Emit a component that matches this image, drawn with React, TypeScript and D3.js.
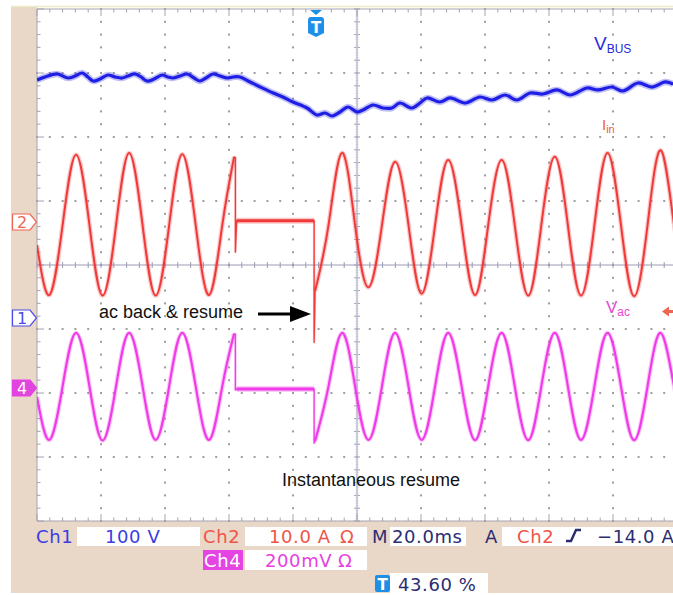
import React, { useEffect, useRef } from "react";
import * as d3 from "d3";

// screen: 10 div x 20 ms, 8 vertical div
const timeSpan = [0, 200];
const divsX = 10;
const divsY = 8;

// Ch1 VBUS (V) vs time (ms)
const vbus: [number, number][] = [
  [0, 372], [2.5, 376.6], [6.3, 381.3], [9.7, 375], [11.9, 378], [14.1, 382.8], [15.9, 376.6],
  [17.5, 370.3], [19.7, 373.4], [22.2, 379.7], [24.4, 376.6], [26.6, 375], [28.4, 378.1],
  [30.6, 381.3], [32.5, 376.6], [34.4, 370.3], [36.6, 373.4], [39.1, 379.7], [40.9, 376.6],
  [42.5, 375], [44.7, 378.1], [46.9, 381.3], [49.1, 375], [50.9, 370.3], [52.8, 375],
  [55.0, 381.3], [57.2, 378.1], [59.4, 375], [61.3, 376.6], [63.4, 376.6], [66.6, 368.8],
  [70.2, 360], [73.8, 351.6], [77, 345], [80.0, 337.5], [84.4, 328.1], [87.5, 317.2], [90.0, 320.3],
  [92.2, 315.6], [94.7, 321.9], [97.2, 329.7], [100, 321.9], [101.9, 325], [105, 332.8],
  [108.1, 328.1], [110.9, 328.1], [113.4, 335.9], [117.2, 328.1], [119.7, 335.9], [121.9, 343.8],
  [125.9, 337.5], [129.1, 343.8], [133.8, 335.9], [138.4, 345.3], [142.2, 340.6], [146.3, 348.4],
  [150, 340.6], [154.1, 351.6], [158.1, 350], [162.5, 356.3], [166.6, 348.4], [171.9, 359.4],
  [175.3, 356.3], [179.7, 360.9], [183.1, 354.7], [187.8, 367.2], [192.2, 360.9], [196.3, 368.8],
  [198.8, 365.6],
];

// Ch2 Iin (A): before dropout, dropout edges, flat dropout, after resume
const iinBefore: [number, number][] = [
  [0, -3.6], [3.9, -11.4], [8.0, -0.5], [12.2, 10.5], [16.4, -0.5], [20.5, -11.5], [24.7, -0.5],
  [28.8, 10.8], [33.0, -0.5], [37.1, -11.5], [41.3, -0.5], [45.4, 10.6], [49.6, -0.5],
  [53.8, -11.4], [57.9, -0.5], [61.6, 10.2],
];
const iinEdges: [number, number][] = [
  [61.6, 10.2], [62.0, 10.0], [62.0, -4.7], [62.4, 0.2], [86.6, 0.2], [86.6, -18.8], [86.9, -10.8],
];
const iinFlat: [number, number][] = [[62.4, 0.2], [86.6, 0.2]];
const iinAfter: [number, number][] = [
  [86.9, -10.8], [91.1, -0.5], [95.3, 10.8], [99.4, -0.5], [103.6, -10.2], [107.8, -0.5],
  [111.9, 9.4], [116.1, -0.5], [120.2, -11.2], [124.4, -0.5], [128.5, 9.7], [132.7, -0.5],
  [136.9, -11.4], [141.0, -0.5], [145.2, 9.7], [149.3, -0.5], [153.5, -11.5], [157.6, -0.5],
  [161.8, 10.2], [165.9, -0.5], [170.0, -11.5], [174.2, -0.5], [178.3, 10.8], [182.5, -0.5],
  [186.6, -11.6], [190.8, -0.5], [194.9, 11.2], [199.1, -0.5], [203.2, -11.4],
];

// Ch4 Vac (mV)
const vacBefore: [number, number][] = [
  [0, -28], [3.9, -162], [8.0, 5], [12.2, 172], [16.4, 5], [20.5, -164], [24.7, 5],
  [28.8, 172], [33.0, 5], [37.1, -162], [41.3, 5], [45.4, 172], [49.6, 5], [53.8, -162],
  [57.9, 5], [61.6, 170],
];
const vacEdges: [number, number][] = [
  [61.6, 170], [62.0, 168], [62.0, -6], [62.4, -3], [86.6, -3], [86.6, -172], [86.9, -166],
];
const vacFlat: [number, number][] = [[62.4, -3], [86.6, -3]];
const vacAfter: [number, number][] = [
  [86.9, -166], [91.1, 5], [95.3, 172], [99.4, 5], [103.6, -162], [107.8, 5], [111.9, 172],
  [116.1, 5], [120.2, -162], [124.4, 5], [128.5, 172], [132.7, 5], [136.9, -163], [141.0, 5],
  [145.2, 172], [149.3, 5], [153.5, -163], [157.6, 5], [161.8, 172], [165.9, 5], [170.0, -162],
  [174.2, 5], [178.3, 172], [182.5, 5], [186.6, -163], [190.8, 5], [194.9, 172], [199.1, 5],
  [203.2, -162],
];

const triggerLevel = -14.0; // A, Ch2
const triggerPos = 43.6; // %

const FONT = "'DejaVu Sans', Verdana, sans-serif";
const ARIAL = "'Liberation Sans', Arial, sans-serif";

export default function App() {
  const ref = useRef<SVGSVGElement>(null);

  useEffect(() => {
    if (!ref.current) return;
    const svg = d3.select(ref.current);
    svg.selectAll("*").remove();

    const div = 64;
    const left = 37, top = 9;
    const right = left + divsX * div;
    const bottom = top + divsY * div;

    const x = d3.scaleLinear().domain(timeSpan).range([left, right]);
    const gx = d3.scaleLinear().domain([0, divsX]).range([left, right]);
    const gy = d3.scaleLinear().domain([0, divsY]).range([top, bottom]);
    // channel scales (per div: 100 V, 10 A, 200 mV)
    const y1 = d3.scaleLinear().domain([-100, 100]).range([318 + div, 318 - div]);
    const y2 = d3.scaleLinear().domain([-10, 10]).range([222 + div, 222 - div]);
    const y4 = d3.scaleLinear().domain([-200, 200]).range([388 + div, 388 - div]);

    // panel background
    svg.append("rect").attr("width", 673).attr("height", 595).attr("fill", "#fff");
    svg.append("rect").attr("x", 11).attr("y", 6).attr("width", 662).attr("height", 587).attr("fill", "#E9D7C8");
    svg.append("rect").attr("x", left).attr("y", 6).attr("width", 640).attr("height", bottom - 6).attr("fill", "#fff");
    svg.append("line").attr("x1", 11).attr("x2", 673).attr("y1", 6.5).attr("y2", 6.5)
      .attr("stroke", "#ECECC4").attr("stroke-width", 1.5);

    const grid = svg.append("g");
    const dotColor = "#9E9E9E";
    // dotted division lines
    d3.range(1, divsX).filter((i) => i !== 5).forEach((i) => {
      grid.selectAll(null).data(d3.range(0, divsY * 5 + 1)).enter().append("rect")
        .attr("x", gx(i) - 1).attr("y", (j) => gy(j / 5) - 1)
        .attr("width", 2).attr("height", 2).attr("fill", dotColor);
    });
    d3.range(1, divsY).filter((k) => k !== 4).forEach((k) => {
      grid.selectAll(null).data(d3.range(0, divsX * 5 + 1)).enter().append("rect")
        .attr("x", (m) => gx(m / 5) - 1).attr("y", gy(k) - 1)
        .attr("width", 2).attr("height", 2).attr("fill", dotColor);
    });

    const axisColor = "#9C9CB6";
    // center cross with ticks
    grid.append("line").attr("x1", left).attr("x2", right).attr("y1", gy(4)).attr("y2", gy(4))
      .attr("stroke", axisColor).attr("stroke-width", 1);
    grid.append("line").attr("x1", gx(5)).attr("x2", gx(5)).attr("y1", top).attr("y2", bottom)
      .attr("stroke", axisColor).attr("stroke-width", 1);
    grid.selectAll(null).data(d3.range(0, divsX * 5 + 1)).enter().append("line")
      .attr("x1", (m) => gx(m / 5)).attr("x2", (m) => gx(m / 5))
      .attr("y1", gy(4) - 3).attr("y2", gy(4) + 3).attr("stroke", axisColor);
    grid.selectAll(null).data(d3.range(0, divsY * 5 + 1)).enter().append("line")
      .attr("y1", (j) => gy(j / 5)).attr("y2", (j) => gy(j / 5))
      .attr("x1", gx(5) - 3).attr("x2", gx(5) + 3).attr("stroke", axisColor);
    grid.selectAll(null).data(d3.range(0, divsY * 25 + 1)).enter().append("line")
      .attr("y1", (j) => gy(j / 25)).attr("y2", (j) => gy(j / 25))
      .attr("x1", gx(5) - 1.5).attr("x2", gx(5) + 1.5).attr("stroke", "#C4C4D4").attr("stroke-width", 0.7);

    // border rulers
    const rulerColor = "#A4A4B0";
    grid.append("line").attr("x1", left).attr("x2", right).attr("y1", top).attr("y2", top).attr("stroke", rulerColor);
    grid.append("line").attr("x1", left).attr("x2", right).attr("y1", bottom).attr("y2", bottom).attr("stroke", rulerColor);
    grid.append("line").attr("x1", left).attr("x2", left).attr("y1", top).attr("y2", bottom).attr("stroke", rulerColor);
    grid.selectAll(null).data(d3.range(0, divsX * 5 + 1)).enter().append("line")
      .attr("x1", (m) => gx(m / 5)).attr("x2", (m) => gx(m / 5))
      .attr("y1", top).attr("y2", (m) => top + (m % 5 === 0 ? 7 : 3.5)).attr("stroke", rulerColor);
    grid.selectAll(null).data(d3.range(0, divsX * 5 + 1)).enter().append("line")
      .attr("x1", (m) => gx(m / 5)).attr("x2", (m) => gx(m / 5))
      .attr("y1", bottom).attr("y2", (m) => bottom - (m % 5 === 0 ? 7 : 3.5)).attr("stroke", rulerColor);
    grid.selectAll(null).data(d3.range(0, divsY * 5 + 1)).enter().append("line")
      .attr("y1", (j) => gy(j / 5)).attr("y2", (j) => gy(j / 5))
      .attr("x1", left).attr("x2", (j) => left + (j % 5 === 0 ? 7 : 3.5)).attr("stroke", rulerColor);

    // traces
    svg.append("clipPath").attr("id", "scr").append("rect")
      .attr("x", left).attr("y", top).attr("width", 640).attr("height", bottom - top);
    const traces = svg.append("g").attr("clip-path", "url(#scr)");

    const drawTrace = (
      data: [number, number][],
      ys: d3.ScaleLinear<number, number>,
      curve: d3.CurveFactory,
      color: string,
      core: number,
      fuzz: number
    ) => {
      const line = d3.line<[number, number]>().x((d) => x(d[0])).y((d) => ys(d[1])).curve(curve);
      traces.append("path").attr("d", line(data)).attr("fill", "none").attr("stroke", color)
        .attr("stroke-width", fuzz).attr("stroke-opacity", 0.28).attr("stroke-linejoin", "round");
      traces.append("path").attr("d", line(data)).attr("fill", "none").attr("stroke", color)
        .attr("stroke-width", core).attr("stroke-linejoin", "round");
    };

    drawTrace(vbus, y1, d3.curveCatmullRom.alpha(0.5), "#1E1EE4", 3.2, 6.5);

    const red = "#F03A3A";
    drawTrace(iinBefore, y2, d3.curveNatural, red, 2, 4.5);
    drawTrace(iinEdges, y2, d3.curveLinear, red, 1.3, 2.5);
    drawTrace(iinFlat, y2, d3.curveLinear, red, 3, 6);
    drawTrace(iinAfter, y2, d3.curveNatural, red, 2, 4.5);

    const mag = "#F03CE8";
    drawTrace(vacBefore, y4, d3.curveNatural, mag, 2.2, 4.5);
    drawTrace(vacEdges, y4, d3.curveLinear, mag, 1.3, 2.5);
    drawTrace(vacFlat, y4, d3.curveLinear, mag, 3, 6);
    drawTrace(vacAfter, y4, d3.curveNatural, mag, 2.2, 4.5);

    // trigger position marker
    const tx = x((triggerPos / 100) * timeSpan[1]);
    const tg = svg.append("g").attr("transform", `translate(${tx},${top})`);
    tg.append("path").attr("d", "M-6,1 L6,1 L0,6 Z").attr("fill", "#1E8FE6");
    tg.append("path").attr("d", "M-8,11 Q-8,8 -5,8 L5,8 Q8,8 8,11 L8,24 L0,28 L-8,24 Z").attr("fill", "#1E8FE6");
    tg.append("text").attr("x", 0).attr("y", 24).attr("text-anchor", "middle")
      .attr("font-family", FONT).attr("font-weight", "bold").attr("font-size", 15).attr("fill", "#fff").text("T");

    // trigger level arrow (right edge)
    const ty = y2(triggerLevel);
    svg.append("path").attr("d", `M662,${ty} L669,${ty - 5} L669,${ty - 1.5} L673,${ty - 1.5} L673,${ty + 1.5} L669,${ty + 1.5} L669,${ty + 5} Z`)
      .attr("fill", "#F06452");

    // channel ground markers
    const marker = (gyPos: number, label: string, stroke: string, fill: string, textFill: string) => {
      const g = svg.append("g").attr("transform", `translate(0,${gyPos})`);
      g.append("path").attr("d", "M12.5,-8 L30,-8 L36.5,0 L30,8 L12.5,8 Z")
        .attr("fill", fill).attr("stroke", stroke).attr("stroke-width", 1.2);
      g.append("text").attr("x", 22).attr("y", 6).attr("text-anchor", "middle")
        .attr("font-family", FONT).attr("font-size", 16).attr("fill", textFill).text(label);
    };
    marker(y2(0), "2", "#F06452", "#fff", "#F06452");
    marker(y1(0), "1", "#4A4AE6", "#fff", "#4A4AE6");
    marker(y4(0), "4", "#E244E0", "#E244E0", "#fff");

    // trace labels
    const sub = (xp: number, yp: number, main: string, s: string, color: string, size: number, subSize: number) => {
      const t = svg.append("text").attr("x", xp).attr("y", yp).attr("font-family", ARIAL)
        .attr("font-size", size).attr("fill", color);
      t.append("tspan").text(main);
      t.append("tspan").attr("font-size", subSize).attr("dy", 3).text(s);
    };
    sub(594, 50, "V", "BUS", "#2A2AE0", 19, 12);
    sub(602, 130, "I", "in", "#F0602E", 15, 11);
    sub(606, 313, "V", "ac", "#E848D8", 17, 12);

    // annotations
    svg.append("text").attr("x", 99).attr("y", 318).attr("font-family", ARIAL).attr("font-size", 18)
      .attr("fill", "#111").text("ac back & resume");
    svg.append("line").attr("x1", 258).attr("x2", 292).attr("y1", 314).attr("y2", 314)
      .attr("stroke", "#000").attr("stroke-width", 3);
    svg.append("path").attr("d", "M290,306 L311,314 L290,322 Z").attr("fill", "#000");
    svg.append("text").attr("x", 282).attr("y", 486).attr("font-family", ARIAL).attr("font-size", 18)
      .attr("fill", "#111").text("Instantaneous resume");

    // status bar
    const box = (bx: number, by: number, bw: number, bh: number) =>
      svg.append("rect").attr("x", bx).attr("y", by).attr("width", bw).attr("height", bh).attr("fill", "#fff");
    const txt = (tx0: number, ty0: number, s: string, color: string) =>
      svg.append("text").attr("x", tx0).attr("y", ty0).attr("font-family", FONT).attr("font-size", 18)
        .attr("letter-spacing", 0.6).attr("fill", color).text(s);

    const blue = "#3C3CE2", coral = "#F05448", navy = "#2C2C72", pink = "#E840E0";
    box(77, 527, 123, 19);
    box(245, 527, 122, 19);
    box(390, 527, 76, 19);
    box(502, 527, 171, 19);
    box(245, 550, 122, 20);
    box(390, 573, 98, 20);
    svg.append("rect").attr("x", 203).attr("y", 550).attr("width", 40).attr("height", 20).attr("fill", "#E444E2");

    txt(36, 543, "Ch1", blue);
    txt(105, 543, "100 V", blue);
    txt(203, 543, "Ch2", coral);
    txt(269, 543, "10.0 A", coral);
    txt(340, 543, "Ω", coral);
    txt(372, 543, "M", navy);
    txt(392, 543, "20.0ms", navy);
    txt(485, 543, "A", navy);
    txt(517, 543, "Ch2", coral);
    svg.append("path").attr("d", "M566,541 L571,541 L576,530 L581,530").attr("fill", "none")
      .attr("stroke", navy).attr("stroke-width", 2.4);
    txt(597, 543, "\u221214.0 A", navy);
    txt(204, 567, "Ch4", "#fff");
    txt(265, 567, "200mV", pink);
    txt(338, 567, "Ω", pink);
    svg.append("rect").attr("x", 375).attr("y", 575).attr("width", 15).attr("height", 17).attr("rx", 2).attr("fill", "#1E8FE6");
    svg.append("text").attr("x", 382.5).attr("y", 590).attr("text-anchor", "middle").attr("font-family", FONT)
      .attr("font-weight", "bold").attr("font-size", 15).attr("fill", "#fff").text("T");
    txt(398, 591, "43.60 %", navy);
  }, []);

  return (
    <div style={{ position: "absolute", left: 0, top: 0 }}>
      <svg ref={ref} width={673} height={595} style={{ display: "block" }}></svg>
    </div>
  );
}
